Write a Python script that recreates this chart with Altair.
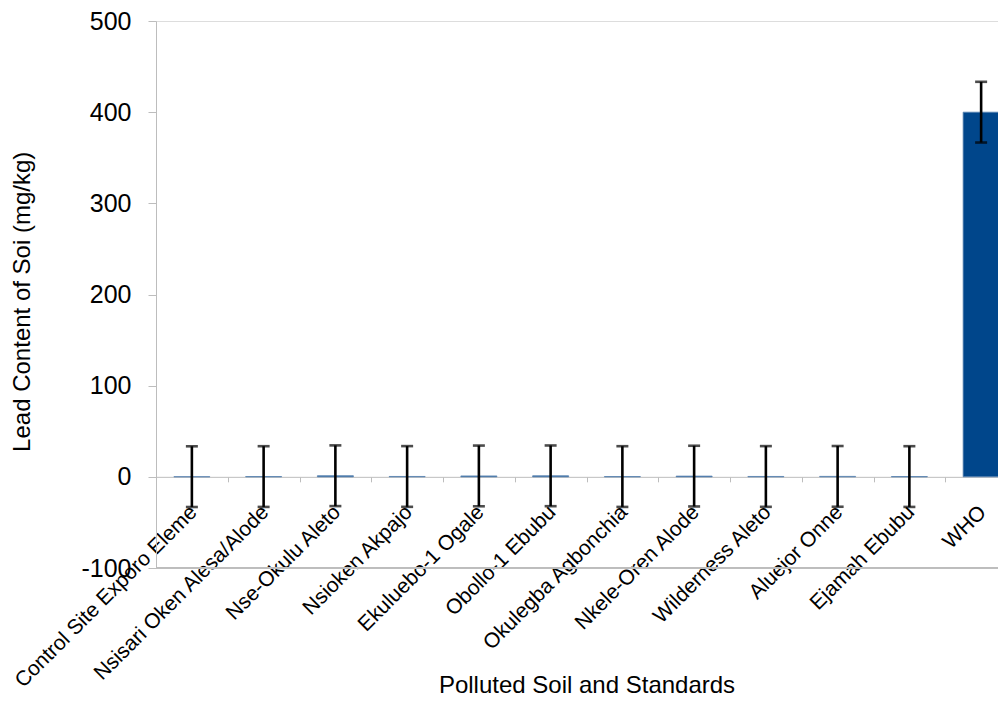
import altair as alt
import pandas as pd

sites = [
    "Control Site Exporo Eleme",
    "Nsisari Oken Alesa/Alode",
    "Nse-Okulu Aleto",
    "Nsioken Akpajo",
    "Ekuluebo-1 Ogale",
    "Obollo-1 Ebubu",
    "Okulegba Agbonchia",
    "Nkele-Oren Alode",
    "Wilderness Aleto",
    "Aluejor Onne",
    "Ejamah Ebubu",
    "WHO",
]
lead = [0.2, 0.3, 1.2, 0.4, 1.0, 1.1, 0.3, 0.8, 0.4, 0.5, 0.3, 400.0]
err = [33.3, 33.3, 33.3, 33.3, 33.3, 33.3, 33.3, 33.3, 33.3, 33.3, 33.3, 33.3]
y_ticks = [-100, 0, 100, 200, 300, 400, 500]

df = pd.DataFrame({"site": sites, "lead": lead, "err": err})
df["lo"] = df["lead"] - df["err"]
df["hi"] = df["lead"] + df["err"]

FONT = "Liberation Sans"
GRAY = "#bdbdbd"

x_enc = alt.X(
    "site:N",
    sort=sites,
    scale=alt.Scale(range=[0, 861], paddingInner=0, paddingOuter=0),
    axis=alt.Axis(
        orient="bottom",
        offset=-91.17,
        domainColor=GRAY,
        domainWidth=1,
        tickColor=GRAY,
        tickSize=5,
        tickBand="extent",
        labelAngle=-45,
        labelAlign="right",
        labelBaseline="middle",
        labelPadding=27,
        labelOffset=1.5,
        labelFont=FONT,
        labelFontSize=21,
        labelColor="black",
        labelLimit=500,
        labelOverlap=False,
        title="Polluted Soil and Standards",
        titleFont=FONT,
        titleFontSize=24,
        titleFontWeight="normal",
        titleColor="black",
        titleX=430.5,
        titleY=215.7,
        titleBaseline="alphabetic",
        titleAlign="center",
    ),
)

y_scale = alt.Scale(domain=[-100, 500], nice=False, zero=False)
y_axis = alt.Axis(
    values=y_ticks,
    grid=False,
    domainColor=GRAY,
    tickColor=GRAY,
    tickSize=8,
    labelExpr="'' + datum.value",
    labelFont=FONT,
    labelFontSize=25,
    labelColor="black",
    labelPadding=17,
    title="Lead Content of Soi (mg/kg)",
    titleFont=FONT,
    titleFontSize=24,
    titleFontWeight="normal",
    titleColor="black",
    titleAngle=270,
    titleX=-127,
    titleY=280.3,
    titleBaseline="alphabetic",
    titleAlign="center",
)

base = alt.Chart(df)

bars = base.mark_bar(size=36, color="#00468b", stroke="#5b84b1", strokeWidth=0.8).encode(
    x=x_enc,
    y=alt.Y("lead:Q", scale=y_scale, axis=y_axis),
)

bottom_line = base.mark_rule(color=GRAY, strokeWidth=1).encode(
    y=alt.datum(-100),
)

err_rule = base.mark_rule(color="black", strokeWidth=2.6).encode(
    x=x_enc,
    y=alt.Y("lo:Q", scale=y_scale),
    y2="hi:Q",
)
cap_lo = base.mark_tick(color="black", size=12, thickness=2.6).encode(
    x=x_enc,
    y=alt.Y("lo:Q", scale=y_scale),
)
cap_hi = base.mark_tick(color="black", size=12, thickness=2.6).encode(
    x=x_enc,
    y=alt.Y("hi:Q", scale=y_scale),
)

chart = (
    alt.layer(bars, bottom_line, err_rule, cap_lo, cap_hi)
    .properties(
        width=842,
        height=547,
        autosize=alt.AutoSizeParams(type="none"),
        padding={"left": 148, "top": 13, "right": 0, "bottom": 130},
    )
    .configure_view(strokeWidth=0)
    .configure(background="white")
)

chart.save("out.html", embed_options={"renderer": "svg", "actions": False})
